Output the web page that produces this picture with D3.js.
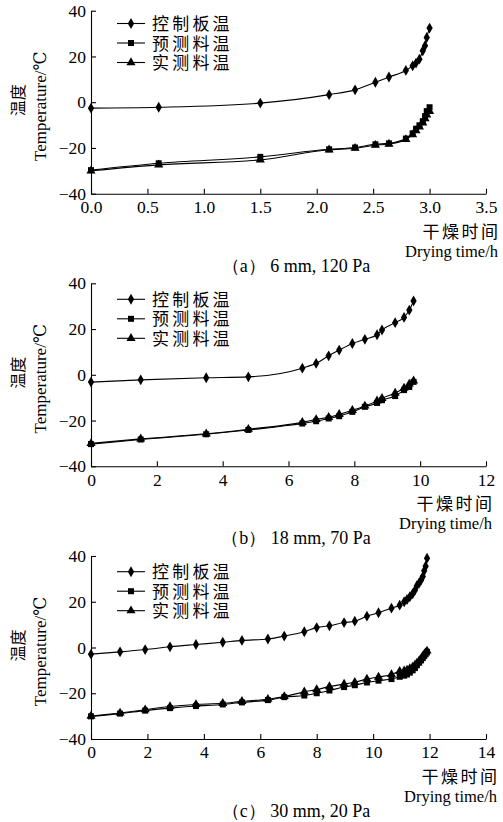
<!DOCTYPE html>
<html>
<head>
<meta charset="utf-8">
<script src="https://cdn.jsdelivr.net/npm/d3@7"></script>
<style>
  html, body { margin: 0; padding: 0; background: #fff; }
  svg { display: block; }
</style>
</head>
<body>
<script>
// ---------------- DATA ----------------
const seriesNames = ["控制板温", "预测料温", "实测料温"];
const yTickValues = [-40, -20, 0, 20, 40];
const yTickLabels = ["\u221240", "\u221220", "0", "20", "40"];
const yTitleCn = "温度";
const yTitleEn = "Temperature/\u2103";
const xTitleCn = "干燥时间";
const xTitleEn = "Drying time/h";

// Panel (a)
const captionA = "（a） 6 mm, 120 Pa";
const xTicksA = [0, 0.5, 1.0, 1.5, 2.0, 2.5, 3.0, 3.5];
const xTickLabelsA = ["0.0", "0.5", "1.0", "1.5", "2.0", "2.5", "3.0", "3.5"];
const timeA = [0, 0.6, 1.5, 2.11, 2.34, 2.52, 2.64, 2.79, 2.85, 2.88, 2.91, 2.94, 2.96, 2.975, 3.0];
const controlA = [-2.6, -2.2, -0.4, 3.3, 5.4, 8.7, 11.0, 13.9, 15.9, 17.1, 18.8, 22.5, 24.7, 28.3, 32.4];
const predictedA = [-29.7, -26.7, -23.9, -20.6, -19.8, -18.4, -18.0, -15.9, -13.6, -11.6, -10.1, -8.3, -6.1, -3.9, -2.2];
const measuredA = [-30.0, -27.4, -25.2, -20.8, -20.1, -18.8, -18.3, -16.3, -14.2, -12.4, -10.8, -9.0, -7.2, -5.5, -4.0];

// Panel (b)
const captionB = "（b） 18 mm, 70 Pa";
const xTicksB = [0, 2, 4, 6, 8, 10, 12];
const xTickLabelsB = ["0", "2", "4", "6", "8", "10", "12"];
const timeB = [0, 1.51, 3.50, 4.78, 6.42, 6.84, 7.22, 7.54, 7.94, 8.32, 8.69, 8.84, 9.24, 9.51, 9.67, 9.80];
const controlB = [-3.2, -2.2, -1.3, -0.9, 2.9, 5.0, 8.3, 10.8, 13.7, 15.5, 17.5, 19.6, 22.8, 25.1, 28.3, 32.3];
const predictedB = [-30.3, -28.3, -26.0, -24.1, -21.3, -20.3, -19.1, -18.1, -16.2, -14.0, -12.3, -11.1, -9.3, -6.7, -5.3, -3.1];
const measuredB = [-30.0, -28.0, -25.8, -23.8, -20.8, -19.5, -18.6, -17.3, -15.5, -13.6, -11.4, -10.3, -8.0, -5.8, -4.0, -2.6];

// Panel (c)
const captionC = "（c） 30 mm, 20 Pa";
const xTicksC = [0, 2, 4, 6, 8, 10, 12, 14];
const xTickLabelsC = ["0", "2", "4", "6", "8", "10", "12", "14"];
const timeC = [0, 1.03, 1.92, 2.80, 3.72, 4.67, 5.35, 6.27, 6.85, 7.56, 8.0, 8.45, 8.97, 9.35, 9.78, 10.19, 10.65, 10.94,
               11.1, 11.2, 11.3, 11.4, 11.48, 11.55, 11.63, 11.7, 11.76, 11.81, 11.86, 11.91];
const controlC = [-2.9, -1.9, -0.9, 0.3, 1.3, 2.3, 3.1, 3.7, 5.0, 6.9, 8.7, 9.5, 10.9, 11.5, 13.7, 15.2, 17.2, 18.5,
                  20.0, 21.0, 22.2, 23.5, 25.0, 27.0, 28.2, 29.5, 31.0, 33.5, 35.5, 39.0];
const predictedC = [-30.1, -28.9, -27.6, -26.5, -25.6, -24.9, -24.0, -23.0, -21.7, -21.0, -20.0, -18.8, -17.3, -16.5, -15.3, -14.5, -13.8, -12.8,
                    -12.3, -11.8, -11.0, -10.0, -9.0, -7.8, -6.6, -5.5, -4.5, -3.6, -2.7, -1.9];
const measuredC = [-30.0, -28.6, -27.2, -25.8, -24.9, -24.4, -23.5, -22.6, -21.4, -19.4, -18.4, -17.1, -16.0, -15.2, -13.8, -12.9, -11.8, -10.4,
                   -10.2, -9.8, -9.2, -8.5, -7.7, -6.8, -5.8, -4.8, -3.9, -3.1, -2.3, -1.5];

// ---------------- LAYOUT ----------------
const W = 503, H = 822;
const plotLeft = 91, plotRight = 486, plotH = 183;
const panels = [
  { time: timeA, ctrl: controlA, pred: predictedA, meas: measuredA, xTicks: xTicksA, xLabels: xTickLabelsA,
    caption: captionA, top: 10.7, legendTop: 12.8, titleX: 498 },
  { time: timeB, ctrl: controlB, pred: predictedB, meas: measuredB, xTicks: xTicksB, xLabels: xTickLabelsB,
    caption: captionB, top: 283.3, legendTop: 16, titleX: 492 },
  { time: timeC, ctrl: controlC, pred: predictedC, meas: measuredC, xTicks: xTicksC, xLabels: xTickLabelsC,
    caption: captionC, top: 556, legendTop: 15.7, titleX: 497 }
];

const serif = "Liberation Serif, DejaVu Serif, serif";
const cjk = "Noto Sans CJK SC, sans-serif";
const legendFont = "Liberation Serif, Noto Sans CJK SC, serif";

const svg = d3.select("body").append("svg")
  .attr("width", W).attr("height", H)
  .attr("viewBox", `0 0 ${W} ${H}`);

const symDiamond = d3.symbol().type(d3.symbolDiamond).size(34);
const symSquare = d3.symbol().type(d3.symbolSquare).size(36);
const symTriangle = d3.symbol().type(d3.symbolTriangle).size(36);
const symbols = [symDiamond, symSquare, symTriangle];

panels.forEach(p => {
  const g = svg.append("g");
  const x = d3.scaleLinear()
    .domain([p.xTicks[0], p.xTicks[p.xTicks.length - 1]])
    .range([plotLeft, plotRight]);
  const y = d3.scaleLinear()
    .domain([yTickValues[0], yTickValues[yTickValues.length - 1]])
    .range([p.top + plotH, p.top]);

  // axes
  const xAxis = d3.axisBottom(x)
    .tickValues(p.xTicks)
    .tickFormat((d, i) => p.xLabels[i])
    .tickSizeInner(-5).tickSizeOuter(0).tickPadding(7);
  const yAxis = d3.axisLeft(y)
    .tickValues(yTickValues)
    .tickFormat((d, i) => yTickLabels[i])
    .tickSizeInner(-5).tickSizeOuter(0).tickPadding(5);

  const gx = g.append("g").attr("transform", `translate(0,${p.top + plotH})`).call(xAxis);
  const gy = g.append("g").attr("transform", `translate(${plotLeft},0)`).call(yAxis);
  [gx, gy].forEach(a => {
    a.attr("font-family", null).attr("font-size", null);
    a.selectAll("path, line").attr("stroke", "#000").attr("stroke-width", 1.1);
    a.selectAll("text").style("font-family", serif).style("font-size", "17.5px").attr("fill", "#000");
  });

  // series
  const lineGen = d3.line()
    .x((d, i) => x(p.time[i]))
    .y(d => y(d))
    .curve(d3.curveMonotoneX);
  const seriesData = [p.ctrl, p.pred, p.meas];
  seriesData.forEach((vals) => {
    g.append("path")
      .attr("d", lineGen(vals))
      .attr("fill", "none")
      .attr("stroke", "#000")
      .attr("stroke-width", 1.1);
  });
  seriesData.forEach((vals, si) => {
    g.selectAll(null).data(vals).enter().append("path")
      .attr("d", symbols[si])
      .attr("transform", (d, i) => `translate(${x(p.time[i])},${y(d)})`)
      .attr("fill", "#000");
  });

  // legend
  const lg = g.append("g");
  seriesNames.forEach((name, i) => {
    const cy = p.top + p.legendTop + i * 19.5;
    lg.append("line").attr("x1", 117).attr("x2", 145).attr("y1", cy).attr("y2", cy)
      .attr("stroke", "#000").attr("stroke-width", 1.1);
    lg.append("path").attr("d", symbols[i]).attr("transform", `translate(131,${cy})`).attr("fill", "#000");
    lg.append("text").attr("x", 152).attr("y", cy + 6.5)
      .style("font-family", legendFont).style("font-size", "17px").style("letter-spacing", "3.2px")
      .attr("fill", "#000").text(name);
  });

  // y titles
  const cyMid = p.top + plotH / 2;
  g.append("text")
    .attr("transform", `translate(17,${cyMid - 2}) rotate(-90)`)
    .attr("text-anchor", "middle").attr("dominant-baseline", "central")
    .style("font-family", cjk).style("font-size", "16px").attr("fill", "#000").text(yTitleCn);
  g.append("text")
    .attr("transform", `translate(40,${cyMid + 4}) rotate(-90)`)
    .attr("text-anchor", "middle").attr("dominant-baseline", "central")
    .style("font-family", serif).style("font-size", "17px").attr("fill", "#000").text(yTitleEn);

  // x titles
  const base = p.top + plotH;
  g.append("text").attr("x", p.titleX + 2.5).attr("y", base + 44)
    .attr("text-anchor", "end").style("font-family", cjk).style("font-size", "17px")
    .style("letter-spacing", "2.5px")
    .attr("fill", "#000").text(xTitleCn);
  g.append("text").attr("x", p.titleX).attr("y", base + 63)
    .attr("text-anchor", "end").style("font-family", serif).style("font-size", "16.5px")
    .attr("fill", "#000").text(xTitleEn);

  // caption
  g.append("text").attr("x", 296).attr("y", base + 78)
    .attr("text-anchor", "middle").style("font-family", serif).style("font-size", "18px")
    .attr("fill", "#000").text(p.caption);
});
</script>
</body>
</html>
